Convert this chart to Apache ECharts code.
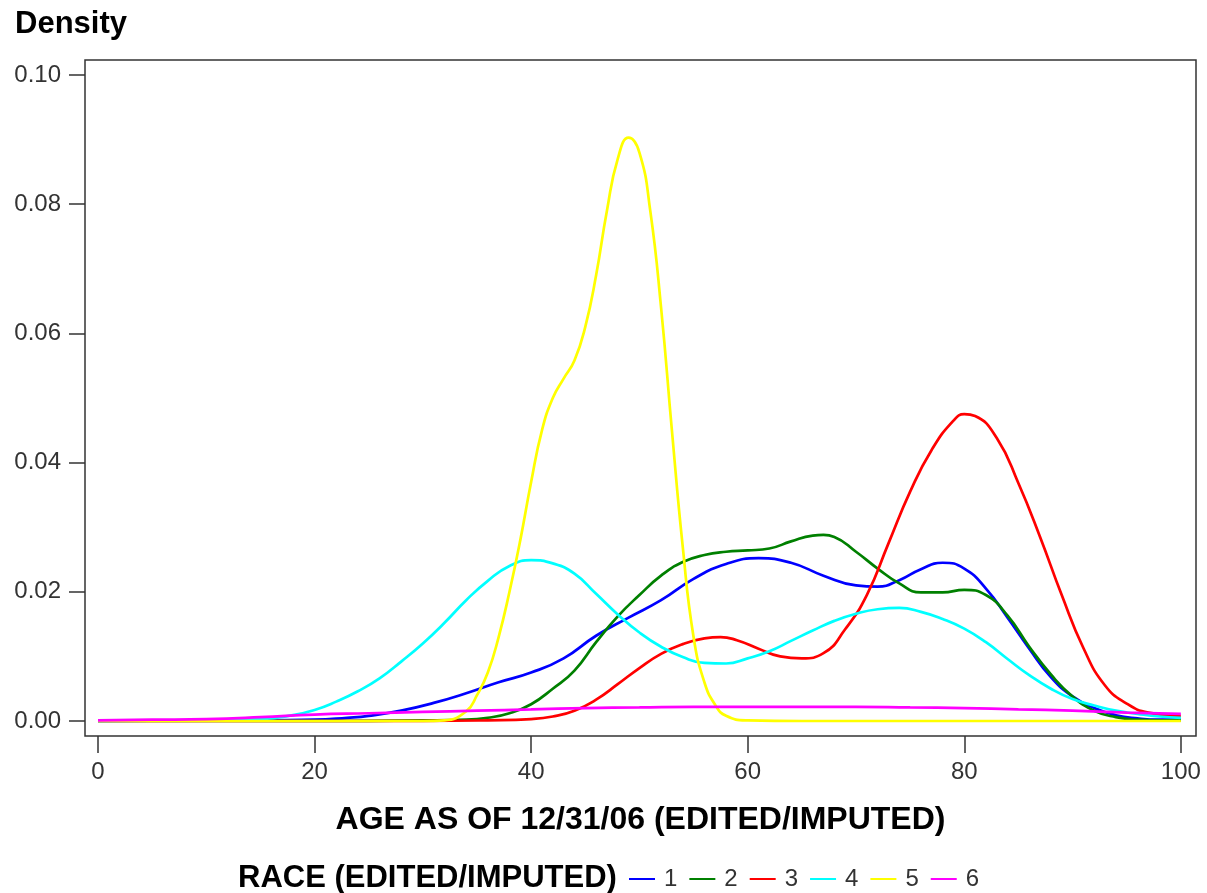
<!DOCTYPE html>
<html>
<head>
<meta charset="utf-8">
<title>Density by race</title>
<script src="https://cdn.jsdelivr.net/npm/echarts@6/dist/echarts.min.js"></script>
<style>
  html, body { margin: 0; padding: 0; background: #fff; }
  #densityChart { width: 1207px; height: 893px; }
</style>
</head>
<body>
<div id="densityChart"></div>
<script>
// 数据: age (x) and density (y), one pair of arrays per race
var raceNames = ['1', '2', '3', '4', '5', '6'];
var raceColors = ['#0000ff', '#008000', '#ff0000', '#00ffff', '#ffff00', '#ff00ff'];

var ages1 = [0, 10, 15, 20, 23, 25, 28, 31, 34, 37, 40, 43, 46, 49, 52, 55, 58, 61, 64, 67, 70, 72, 74, 76, 78, 80, 82, 84, 86, 88, 90, 92, 94, 96, 98, 100];
var dens1 = [0, 0.0001, 0.0001, 0.0002, 0.0005, 0.0008, 0.0016, 0.0028, 0.0043, 0.006, 0.0075, 0.0097, 0.0132, 0.016, 0.0187, 0.022, 0.0243, 0.0252, 0.0245, 0.0225, 0.021, 0.0208, 0.0218, 0.0235, 0.0245, 0.0236, 0.0205, 0.016, 0.0112, 0.0068, 0.0038, 0.002, 0.0009, 0.0004, 0.0002, 0.0002];

var ages2 = [0, 20, 30, 34, 36, 38, 40, 42, 44, 46, 48, 50, 52, 54, 56, 58, 60, 62, 64, 66, 67, 68, 70, 72, 74, 76, 78, 80, 82, 84, 86, 88, 90, 92, 94, 96, 98, 100];
var dens2 = [0, 0, 0.0001, 0.0002, 0.0005, 0.0012, 0.0026, 0.005, 0.0078, 0.0122, 0.0162, 0.0195, 0.0225, 0.0246, 0.0257, 0.0262, 0.0264, 0.0267, 0.0278, 0.0287, 0.0288, 0.0285, 0.0262, 0.0236, 0.0213, 0.0199, 0.0199, 0.0203, 0.0195, 0.0163, 0.0115, 0.0072, 0.0038, 0.0016, 0.0006, 0.0002, 0.0001, 0.0001];

var ages3 = [0, 30, 36, 40, 42, 44, 46, 48, 50, 52, 54, 56, 57.5, 59, 61, 63, 65, 67, 69, 71, 73, 75, 77, 79, 80, 81, 83, 85, 87, 89, 91, 93, 95, 97, 100];
var dens3 = [0, 0, 0.0001, 0.0003, 0.0007, 0.0016, 0.0033, 0.0057, 0.0082, 0.0104, 0.0119, 0.0128, 0.013, 0.0125, 0.0112, 0.01, 0.0097, 0.0105, 0.0142, 0.0195, 0.0275, 0.0355, 0.042, 0.0465, 0.0475, 0.0472, 0.0438, 0.0368, 0.0285, 0.0195, 0.0113, 0.0055, 0.0027, 0.0013, 0.0008];

var ages4 = [0, 10, 15, 18, 20, 22, 24, 26, 28, 30, 32, 34, 36, 38, 40, 42, 44, 46, 48, 50, 52, 54, 56, 58, 60, 62, 64, 66, 68, 70, 72, 74, 76, 78, 80, 82, 84, 86, 88, 90, 92, 94, 96, 98, 100];
var dens4 = [0, 0.0001, 0.0003, 0.0009, 0.0017, 0.003, 0.0046, 0.0066, 0.0092, 0.012, 0.0152, 0.0187, 0.0217, 0.024, 0.0249, 0.0244, 0.0228, 0.0197, 0.0165, 0.0137, 0.0115, 0.0099, 0.009, 0.0089, 0.0097, 0.0108, 0.0124, 0.014, 0.0155, 0.0166, 0.0173, 0.0175, 0.0169, 0.0158, 0.0143, 0.0122, 0.0096, 0.0071, 0.005, 0.0034, 0.0024, 0.0016, 0.0011, 0.0007, 0.0005];

var ages5 = [0, 20, 30, 32, 34, 35, 36, 37, 38, 39, 40, 41, 42, 43, 44, 45, 46, 47, 48, 49, 50, 51, 52, 53, 54, 55, 56, 57, 58, 60, 65, 80, 100];
var dens5 = [0, 0, 0, 0.0001, 0.0015, 0.004, 0.0075, 0.013, 0.02, 0.028, 0.037, 0.045, 0.05, 0.053, 0.0558, 0.061, 0.069, 0.079, 0.087, 0.0903, 0.088, 0.079, 0.064, 0.045, 0.027, 0.013, 0.006, 0.0025, 0.0008, 0.0001, 0, 0, 0];

var ages6 = [0, 5, 10, 15, 20, 25, 30, 35, 40, 45, 50, 55, 60, 65, 70, 75, 80, 85, 90, 95, 100];
var dens6 = [0.0001, 0.0002, 0.0003, 0.0006, 0.001, 0.0012, 0.0014, 0.0016, 0.0018, 0.002, 0.0021, 0.0022, 0.0022, 0.0022, 0.0022, 0.0021, 0.002, 0.0018, 0.0016, 0.0013, 0.0011];

var xTicks = [0, 20, 40, 60, 80, 100];
var yTicks = [0, 0.02, 0.04, 0.06, 0.08, 0.10];

var allAges = [ages1, ages2, ages3, ages4, ages5, ages6];
var allDens = [dens1, dens2, dens3, dens4, dens5, dens6];

function pairs(xs, ys) {
    return xs.map(function (x, i) { return [x, ys[i]]; });
}

var chart = echarts.init(document.getElementById('densityChart'), null, { renderer: 'canvas' });

var seriesList = raceNames.map(function (name, i) {
    return {
        name: name,
        type: 'line',
        data: pairs(allAges[i], allDens[i]),
        smooth: 0.5,
        showSymbol: false,
        lineStyle: { color: raceColors[i], width: 2.7 },
        itemStyle: { color: raceColors[i] },
        z: 2 + i
    };
});

var axisFont = 'Liberation Sans, Arial, sans-serif';

chart.setOption({
    animation: false,
    backgroundColor: '#fff',
    title: [{
        text: 'Density',
        left: 10, top: 4,
        textStyle: { fontFamily: axisFont, fontSize: 31, fontWeight: 'bold', color: '#000' }
    }, {
        text: 'RACE (EDITED/IMPUTED)',
        left: 233, top: 858,
        textStyle: { fontFamily: axisFont, fontSize: 31, fontWeight: 'bold', color: '#000' }
    }],
    legend: {
        data: raceNames.map(function (n) { return { name: n, icon: 'rect' }; }),
        left: 624, top: 862,
        itemWidth: 26, itemHeight: 2,
        itemGap: 12,
        textStyle: { fontFamily: axisFont, fontSize: 24, color: '#333', padding: [0, 0, 0, 4] }
    },
    grid: {
        left: 85, top: 60, right: 11, bottom: 157,
        show: true,
        borderColor: '#333', borderWidth: 1.5,
        containLabel: false
    },
    xAxis: {
        type: 'value',
        min: -1.2, max: 101.4,
        name: 'AGE AS OF 12/31/06 (EDITED/IMPUTED)',
        nameLocation: 'middle', nameGap: 68,
        nameTextStyle: { fontFamily: axisFont, fontSize: 32, fontWeight: 'bold', color: '#000' },
        axisLine: { show: false, onZero: false },
        axisTick: { show: true, inside: false, length: 17, customValues: xTicks, lineStyle: { color: '#333', width: 1.5 } },
        axisLabel: { customValues: xTicks, margin: 24, fontFamily: axisFont, fontSize: 24, color: '#333' },
        splitLine: { show: false }
    },
    yAxis: {
        type: 'value',
        min: -0.00232, max: 0.10232,
        axisLine: { show: false, onZero: false },
        axisTick: { show: true, inside: false, length: 16, customValues: yTicks, lineStyle: { color: '#333', width: 1.5 } },
        axisLabel: {
            customValues: yTicks, margin: 24, fontFamily: axisFont, fontSize: 24, color: '#333',
            formatter: function (v) { return v.toFixed(2); }
        },
        splitLine: { show: false }
    },
    series: seriesList
});
</script>
</body>
</html>
